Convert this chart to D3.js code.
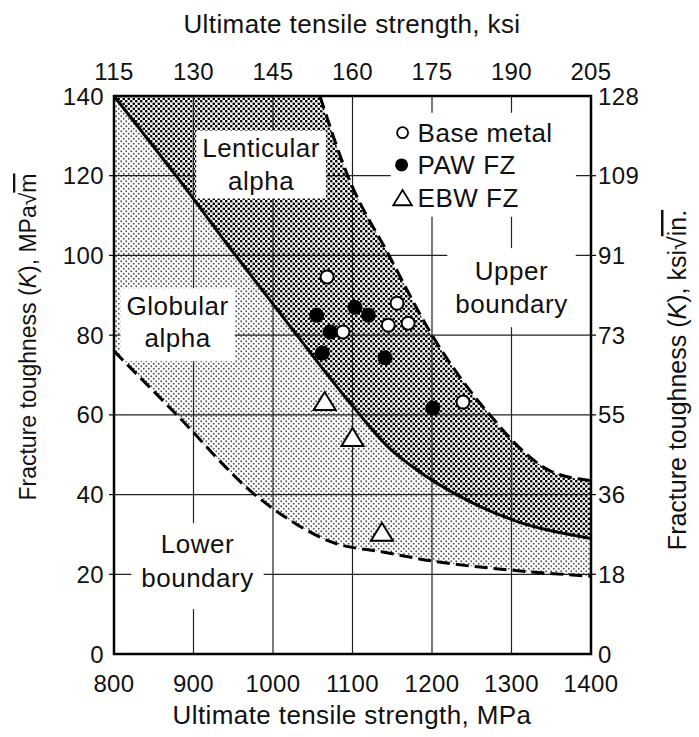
<!DOCTYPE html>
<html><head><meta charset="utf-8">
<script src="https://cdn.jsdelivr.net/npm/d3@7"></script>
<style>
body{margin:0;background:#fff}
svg{display:block}
text{font-family:"Liberation Sans",Arial,Helvetica,sans-serif;fill:#111}
</style>
</head><body>
<svg id="c" width="699" height="737"></svg>
<script>
// ---- data ----
const mpaTicks = [800, 900, 1000, 1100, 1200, 1300, 1400];
const ksiTickLabels = ["115", "130", "145", "160", "175", "190", "205"];
const kTicks = [0, 20, 40, 60, 80, 100, 120, 140];
const ksiInTickLabels = ["0", "18", "36", "55", "73", "91", "109", "128"];

const upperUTS = [1059, 1094, 1146, 1200, 1252, 1277, 1314, 1348, 1400];
const upperK   = [140, 120, 100, 80, 65, 59, 51, 46, 43.5];
const solidUTS = [800, 878, 953, 1030, 1101, 1147, 1172, 1244, 1302, 1400];
const solidK   = [140, 120, 100, 80, 62, 51.5, 47.5, 38.6, 33.6, 29];
const lowerUTS = [800, 879, 977, 1030, 1075, 1138, 1201, 1302, 1400];
const lowerK   = [76, 60, 40, 32.5, 28, 25.6, 23.3, 21, 19.5];

const baseUTS = [1068, 1156, 1088, 1145, 1170, 1239];
const baseK   = [94.6, 88, 80.8, 82.5, 83, 63.2];
const pawUTS  = [1055, 1103, 1120, 1072, 1062, 1141, 1201];
const pawK    = [85, 87, 85, 80.8, 75.5, 74.3, 61.7];
const ebwUTS  = [1065, 1100, 1137];
const ebwK    = [63.2, 54.2, 30.4];

const legendLabels = ["Base metal", "PAW FZ", "EBW FZ"];

// ---- layout ----
const L = 114, R = 591, T = 96, B = 654;
const x = d3.scaleLinear().domain([800, 1400]).range([L, R]);
const y = d3.scaleLinear().domain([0, 140]).range([B, T]);
const svg = d3.select("#c");

const defs = svg.append("defs");
const pd = defs.append("pattern").attr("id", "dark").attr("patternUnits", "userSpaceOnUse")
  .attr("width", 5).attr("height", 5);
pd.append("circle").attr("cx", 1.25).attr("cy", 1.25).attr("r", 1.35).attr("fill", "#000");
pd.append("circle").attr("cx", 3.75).attr("cy", 3.75).attr("r", 1.35).attr("fill", "#000");
const pl = defs.append("pattern").attr("id", "light").attr("patternUnits", "userSpaceOnUse")
  .attr("width", 5).attr("height", 5);
pl.append("circle").attr("cx", 1.25).attr("cy", 1.25).attr("r", 0.95).attr("fill", "#555");
pl.append("circle").attr("cx", 3.75).attr("cy", 3.75).attr("r", 0.95).attr("fill", "#555");
defs.append("clipPath").attr("id", "plotclip").append("rect")
  .attr("x", L).attr("y", T).attr("width", R - L).attr("height", B - T);

const zip = (a, b) => a.map((v, i) => [v, b[i]]);
const upper = zip(upperUTS, upperK), solid = zip(solidUTS, solidK), lower = zip(lowerUTS, lowerK);
const line = d3.line().x(d => x(d[0])).y(d => y(d[1])).curve(d3.curveMonotoneX);

const g = svg.append("g").attr("clip-path", "url(#plotclip)");

// shaded regions
const pathLight = line(solid) + "L" + line(lower.slice().reverse()).slice(1) + "Z";
g.append("path").attr("d", pathLight).attr("fill", "url(#light)");
const pathDark = line(solid) + "L" + line(upper.slice().reverse()).slice(1) + "L" + x(800) + "," + y(140) + "Z";
g.append("path").attr("d", pathDark).attr("fill", "url(#dark)");

// gridlines
g.selectAll(".vg").data(mpaTicks.slice(1, -1)).join("line")
  .attr("x1", d => x(d)).attr("x2", d => x(d)).attr("y1", T).attr("y2", B)
  .attr("stroke", "#222").attr("stroke-width", 1.2);
g.selectAll(".hg").data(kTicks.slice(1, -1)).join("line")
  .attr("y1", d => y(d)).attr("y2", d => y(d)).attr("x1", L).attr("x2", R)
  .attr("stroke", "#222").attr("stroke-width", 1.2);

// text labels with white boxes
function boxLabel(lines, cx, cyTop, fs, lh, padX, padT, padB) {
  const grp = g.append("g");
  const rect = grp.append("rect").attr("fill", "#fff");
  const t = grp.append("text").attr("text-anchor", "middle").style("font-size", fs + "px")
    .style("letter-spacing", "0.5px");
  lines.forEach((s, i) => t.append("tspan").attr("x", cx).attr("y", cyTop + i * lh).text(s));
  const bb = t.node().getBBox();
  rect.attr("x", bb.x - padX).attr("y", bb.y - padT).attr("width", bb.width + 2 * padX).attr("height", bb.height + padT + padB);
  return grp;
}
boxLabel(["Lenticular", "alpha"], x(985), y(124.8), 26, 33, 6, 2, 3);
boxLabel(["Globular", "alpha"], x(880), y(85), 26, 32, 6, 3, 8);
boxLabel(["Upper", "boundary"], x(1300), y(93.8), 26, 33, 8, 8, 8);
boxLabel(["Lower", "boundary"], x(905), y(25.3), 26, 34, 10, 6, 16);

// legend box (masks gridlines)
g.append("rect").attr("x", x(1148)).attr("y", y(135.8)).attr("width", x(1381) - x(1148))
  .attr("height", y(109.7) - y(135.8)).attr("fill", "#fff");

// curves
g.append("path").attr("d", line(upper)).attr("fill", "none").attr("stroke", "#000")
  .attr("stroke-width", 3).attr("stroke-dasharray", "13,6");
g.append("path").attr("d", line(lower)).attr("fill", "none").attr("stroke", "#000")
  .attr("stroke-width", 3).attr("stroke-dasharray", "13,6");
g.append("path").attr("d", line(solid)).attr("fill", "none").attr("stroke", "#000")
  .attr("stroke-width", 3);

// markers
const tri = (cx, cy, s) => `M${cx - 11 * s},${cy + 8 * s}L${cx + 11 * s},${cy + 8 * s}L${cx},${cy - 10 * s}Z`;
svg.selectAll(".base").data(zip(baseUTS, baseK)).join("circle")
  .attr("cx", d => x(d[0])).attr("cy", d => y(d[1])).attr("r", 6.5)
  .attr("fill", "#fff").attr("stroke", "#000").attr("stroke-width", 2);
svg.selectAll(".paw").data(zip(pawUTS, pawK)).join("circle")
  .attr("cx", d => x(d[0])).attr("cy", d => y(d[1])).attr("r", 7.5).attr("fill", "#000");
svg.selectAll(".ebw").data(zip(ebwUTS, ebwK)).join("path")
  .attr("d", d => tri(x(d[0]), y(d[1]), 1))
  .attr("fill", "#fff").attr("stroke", "#000").attr("stroke-width", 2);

// legend
const lgx = x(1163), lgY = [y(130.8), y(122.7), y(114.3)];
svg.append("circle").attr("cx", lgx).attr("cy", lgY[0]).attr("r", 5.5).attr("fill", "#fff").attr("stroke", "#000").attr("stroke-width", 1.8);
svg.append("circle").attr("cx", lgx - 1).attr("cy", lgY[1]).attr("r", 6.5).attr("fill", "#000");
svg.append("path").attr("d", tri(lgx, lgY[2], 0.85)).attr("fill", "#fff").attr("stroke", "#000").attr("stroke-width", 1.8);
legendLabels.forEach((s, i) => svg.append("text").attr("x", lgx + 15).attr("y", lgY[i] + 9)
  .style("font-size", "26px").style("letter-spacing", "0.5px").text(s));

// frame
svg.append("rect").attr("x", L).attr("y", T).attr("width", R - L).attr("height", B - T)
  .attr("fill", "none").attr("stroke", "#000").attr("stroke-width", 2.5);

// outward ticks left/right
svg.selectAll(".lt").data(kTicks.slice(1, -1)).join("line")
  .attr("x1", L - 5).attr("x2", L).attr("y1", d => y(d)).attr("y2", d => y(d)).attr("stroke", "#000").attr("stroke-width", 1.2);
svg.selectAll(".rt").data(kTicks.slice(1, -1)).join("line")
  .attr("x1", R).attr("x2", R + 5).attr("y1", d => y(d)).attr("y2", d => y(d)).attr("stroke", "#000").attr("stroke-width", 1.2);

// tick labels
const fsT = 24;
const tickStyle = s => s.style("font-size", fsT + "px").style("letter-spacing", "0.4px");
svg.selectAll(".bl").data(mpaTicks).join("text").attr("x", d => x(d)).attr("y", 692)
  .attr("text-anchor", "middle").call(tickStyle).text(d => d);
svg.selectAll(".tl").data(ksiTickLabels).join("text").attr("x", (d, i) => x(mpaTicks[i])).attr("y", 80)
  .attr("text-anchor", "middle").call(tickStyle).text(d => d);
svg.selectAll(".ll").data(kTicks).join("text").attr("x", L - 10).attr("y", d => y(d)).attr("dy", "0.36em")
  .attr("text-anchor", "end").call(tickStyle).text(d => d);
svg.selectAll(".rl").data(ksiInTickLabels).join("text").attr("x", R + 7).attr("y", (d, i) => y(kTicks[i])).attr("dy", "0.36em")
  .attr("text-anchor", "start").call(tickStyle).text(d => d);

// axis titles
svg.append("text").attr("x", 352).attr("y", 33).attr("text-anchor", "middle")
  .style("font-size", "26px").style("letter-spacing", "0.4px")
  .text("Ultimate tensile strength, ksi");
svg.append("text").attr("x", 352).attr("y", 724).attr("text-anchor", "middle")
  .style("font-size", "26px").style("letter-spacing", "0.4px")
  .text("Ultimate tensile strength, MPa");

function yTitle(cx, cy, fs, unitA, unitB) {
  const t = svg.append("text").attr("transform", `translate(${cx},${cy}) rotate(-90)`)
    .attr("text-anchor", "middle").style("font-size", fs + "px");
  t.append("tspan").text("Fracture toughness (");
  t.append("tspan").style("font-style", "italic").text("K");
  t.append("tspan").text("), " + unitA + "\u221A");
  t.append("tspan").style("text-decoration", "overline").text(unitB);
}
yTitle(36, 337, 23, "MPa", "m");
yTitle(686, 380, 25, "ksi", "in.");
</script>
</body></html>
